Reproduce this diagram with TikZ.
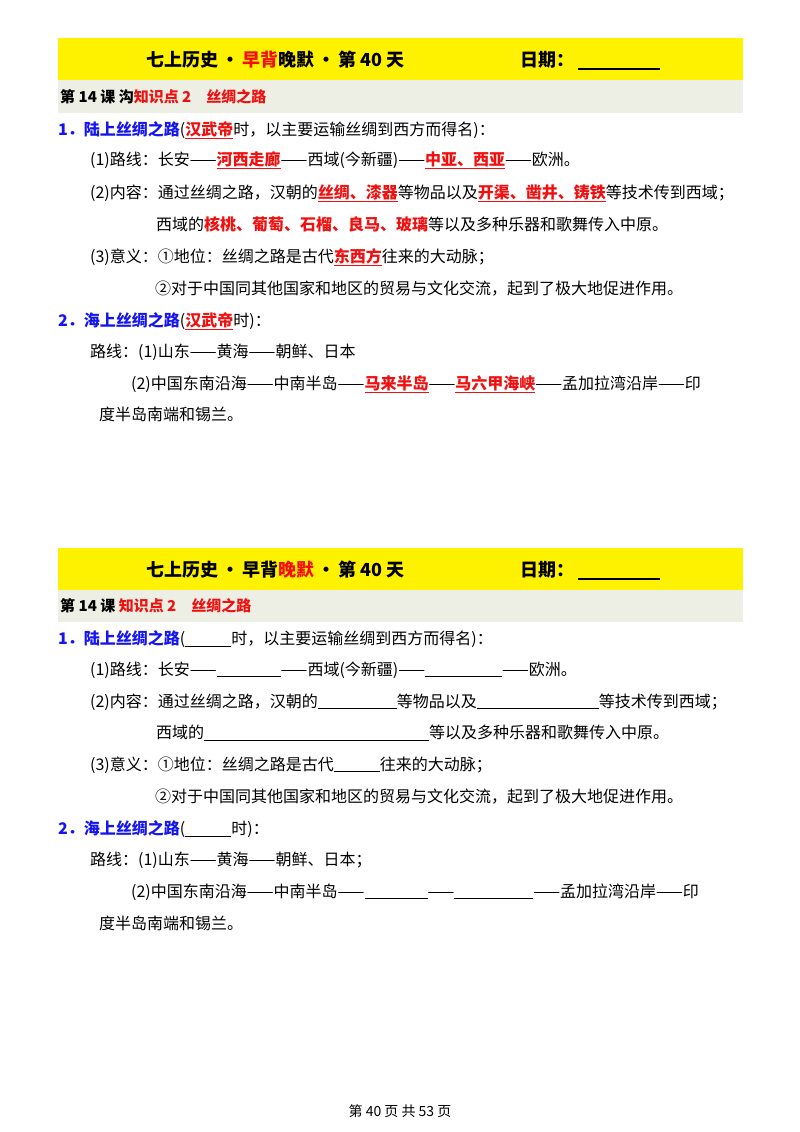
\documentclass[tikz,border=0pt]{standalone}
\usepackage{fontspec}
\setmainfont{Noto Sans CJK SC}
\definecolor{hdgray}{HTML}{EDEFE4}
\definecolor{ttblue}{HTML}{1515F0}
\definecolor{ansred}{HTML}{F01010}
\newcommand{\ans}[1]{{\color{ansred}\bfseries\underline{#1}}}
\newcommand{\blank}[1]{\underline{\hspace{#1pt}}}
\tikzset{
  txt/.style={anchor=west,inner sep=0pt,font=\fontsize{16}{18}\selectfont},
  ttl/.style={anchor=west,inner sep=0pt,font=\fontsize{18}{20}\selectfont\bfseries},
}
\begin{document}
\begin{tikzpicture}[x=1pt,y=-1pt]
\useasboundingbox[fill=white] (0,0) rectangle (800,1132);
% ---------- block 1 ----------
\fill[yellow] (58,38) rectangle (743,80);
\fill[hdgray] (58,80) rectangle (743,113);
\node[ttl] (t1) at (146,60) {七上历史\,·\,{\color{ansred}早背}晚默\,·\,第 40 天};
\node[ttl] (d1) at (520,60) {日期：};
\coordinate (u1a) at (578,69); \coordinate (u1b) at (660,69);
\draw[line width=1.2pt] (u1a) -- (u1b);
\node[txt,font=\fontsize{15}{18}\selectfont\bfseries] (h1) at (60,97) {第 14 课 沟{\color{ansred}知识点 2\quad 丝绸之路}};
\node[txt] (a1) at (58,130) {{\color{ttblue}\bfseries 1．陆上丝绸之路}(\ans{汉武帝}时，以主要运输丝绸到西方而得名)：};
\node[txt] (a2) at (90,160) {(1)路线：长安——\ans{河西走廊}——西域(今新疆)——\ans{中亚、西亚}——欧洲。};
\node[txt] (a3) at (90,193) {(2)内容：通过丝绸之路，汉朝的\ans{丝绸、漆器}等物品以及\ans{开渠、凿井、铸铁}等技术传到西域；};
\node[txt] (a4) at (156,224) {西域的{\color{ansred}\bfseries 核桃、葡萄、石榴、良马、玻璃}等以及多种乐器和歌舞传入中原。};
\node[txt] (a5) at (90,257) {(3)意义：①地位：丝绸之路是古代\ans{东西方}往来的大动脉；};
\node[txt] (a6) at (155,289) {②对于中国同其他国家和地区的贸易与文化交流，起到了极大地促进作用。};
\node[txt] (a7) at (58,321) {{\color{ttblue}\bfseries 2．海上丝绸之路}(\ans{汉武帝}时)：};
\node[txt] (a8) at (90,352) {路线：(1)山东——黄海——朝鲜、日本};
\node[txt] (a9) at (131,384) {(2)中国东南沿海——中南半岛——\ans{马来半岛}——\ans{马六甲海峡}——孟加拉湾沿岸——印};
\node[txt] (a10) at (99,414) {度半岛南端和锡兰。};
% ---------- block 2 ----------
\fill[yellow] (58,548) rectangle (743,590);
\fill[hdgray] (58,590) rectangle (743,622);
\node[ttl] (t2) at (146,570) {七上历史\,·\,早背{\color{ansred}晚默}\,·\,第 40 天};
\node[ttl] (d2) at (520,570) {日期：};
\coordinate (u2a) at (578,579); \coordinate (u2b) at (660,579);
\draw[line width=1.2pt] (u2a) -- (u2b);
\node[txt,font=\fontsize{15}{18}\selectfont\bfseries] (h2) at (60,606) {第 14 课 {\color{ansred}知识点 2\quad 丝绸之路}};
\node[txt] (b1) at (58,639) {{\color{ttblue}\bfseries 1．陆上丝绸之路}(\blank{46}时，以主要运输丝绸到西方而得名)：};
\node[txt] (b2) at (90,670) {(1)路线：长安——\blank{64}——西域(今新疆)——\blank{77}——欧洲。};
\node[txt] (b3) at (90,702) {(2)内容：通过丝绸之路，汉朝的\blank{79}等物品以及\blank{122}等技术传到西域；};
\node[txt] (b4) at (156,733) {西域的\blank{225}等以及多种乐器和歌舞传入中原。};
\node[txt] (b5) at (90,765) {(3)意义：①地位：丝绸之路是古代\blank{46}往来的大动脉；};
\node[txt] (b6) at (155,797) {②对于中国同其他国家和地区的贸易与文化交流，起到了极大地促进作用。};
\node[txt] (b7) at (58,829) {{\color{ttblue}\bfseries 2．海上丝绸之路}(\blank{46}时)：};
\node[txt] (b8) at (90,860) {路线：(1)山东——黄海——朝鲜、日本；};
\node[txt] (b9) at (131,892) {(2)中国东南沿海——中南半岛——\blank{63}——\blank{79}——孟加拉湾沿岸——印};
\node[txt] (b10) at (99,923) {度半岛南端和锡兰。};
% footer
\node[inner sep=0pt,font=\fontsize{14}{16}\selectfont] (ft) at (400,1111) {第 40 页 共 53 页};
\end{tikzpicture}
\end{document}
